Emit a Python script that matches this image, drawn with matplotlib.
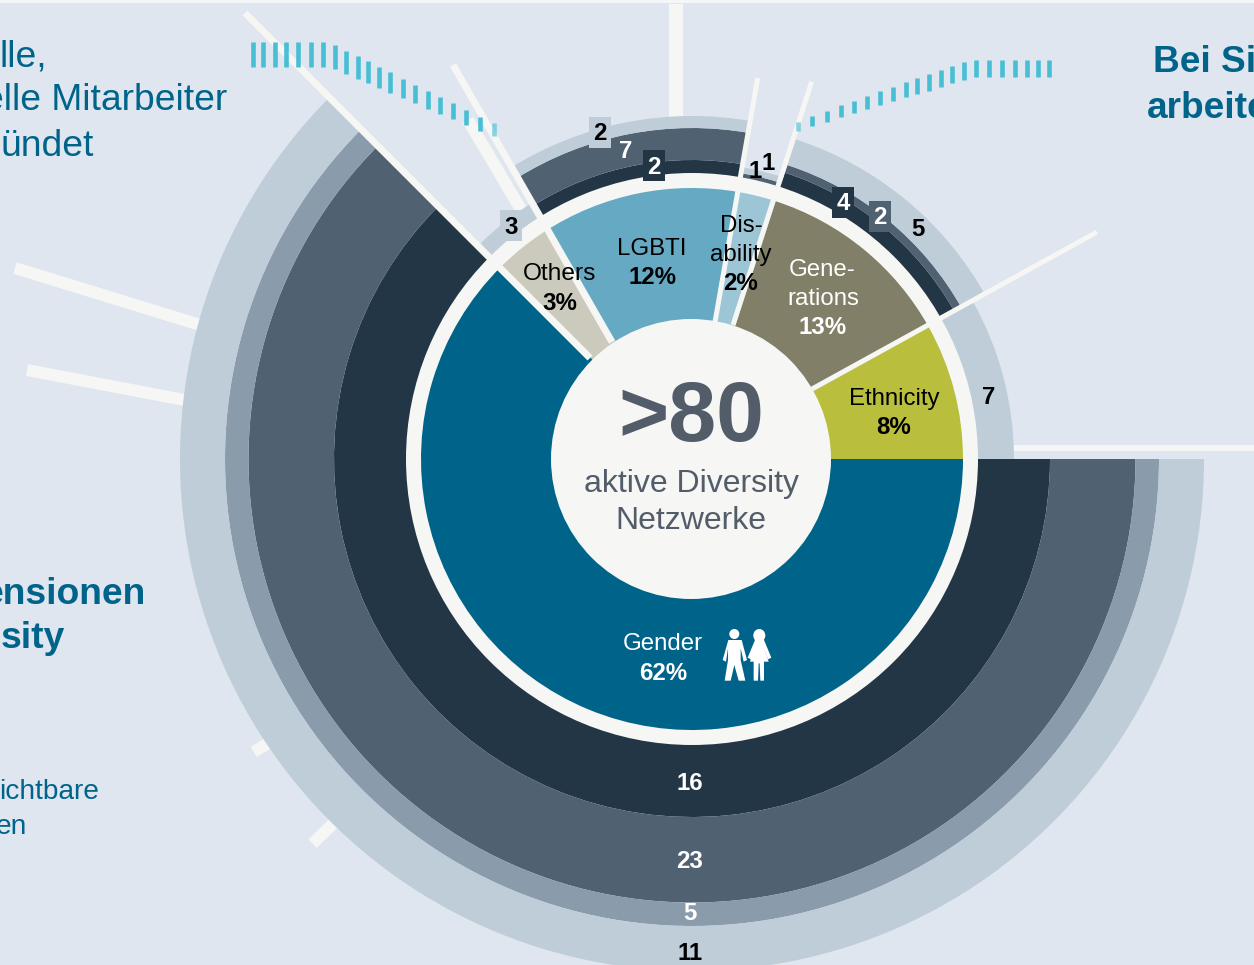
import numpy as np
import matplotlib
matplotlib.use("Agg")
import matplotlib.pyplot as plt
from matplotlib.patches import Wedge, Circle, Rectangle, Polygon, Ellipse

plt.rcParams['font.family'] = ['Liberation Sans', 'DejaVu Sans']

# slices, clockwise from 3 o'clock (share = drawn size, pct = printed label)
slice_names = ['Gender', 'Others', 'LGBTI', 'Disability', 'Generations', 'Ethnicity']
slice_share = [62.5, 3.33, 11.94, 2.22, 11.89, 8.11]
slice_pct = [62, 3, 12, 2, 13, 8]

# network counts per slice, inner band to outer band
ring_counts = [[16, 23, 5, 11], [3], [2, 7, 2], [1, 1], [4, 2, 5], [7]]
ring_outer = [[358, 443.5, 467, 512], [302], [299, 331, 343], [290, 296], [301, 309, 336], [322]]

BG = '#dfe6ef'
WHITE = '#f6f6f4'
TEAL = '#00648a'
GREY_TXT = '#535c69'
NAVY, SLATE, MID, LIGHT = '#233646', '#506272', '#8a9cab', '#bfcdd9'
ring_colors = [[NAVY, SLATE, MID, LIGHT], [LIGHT], [NAVY, SLATE, LIGHT], [SLATE, LIGHT],
               [NAVY, SLATE, LIGHT], [LIGHT]]
slice_colors = ['#00648a', '#cbcabd', '#66a9c3', '#9cc6d5', '#817f67', '#b9bf3c']

CX, CY = 692, 459
R_HOLE, R_SLICE, R_DISC = 140, 271, 286

fig = plt.figure(figsize=(12.54, 9.65), dpi=100, facecolor=BG)
ax = fig.add_axes([0, 0, 1, 1])
ax.set_xlim(0, 1254)
ax.set_ylim(965, 0)  # y down, so wedge angles run clockwise
ax.axis('off')

ax.add_patch(Rectangle((0, 0), 1254, 3, color='#f4f6f8', lw=0, zorder=0))


def bar(p0, p1, width, z=1):
    ax.plot([p0[0], p1[0]], [p0[1], p1[1]], color=WHITE, lw=width * 0.72,
            solid_capstyle='butt', zorder=z)


# rays behind the rings
bar((676, 4), (676, 125), 14)
bar((15, 268), (210, 328), 12)
bar((27, 370), (195, 402), 12)
bar((468, 120), (526, 218), 12)
bar((253.7, 752), (275, 739), 12)
bar((312.5, 843.7), (340, 817), 12)
bar((1013, 447.5), (1254, 447.5), 6)

# rings and slices
edges = np.cumsum([0] + slice_share) / sum(slice_share) * 360
ring_edges = edges.copy()
ring_edges[2] += 1  # the Others/LGBTI separator runs slightly off-centre
for i in range(len(slice_names)):
    inner = R_DISC - 2
    for r, c in zip(ring_outer[i], ring_colors[i]):
        ax.add_patch(Wedge((CX, CY), r, ring_edges[i], ring_edges[i + 1], width=r - inner,
                           fc=c, ec='none', zorder=2))
        inner = r

ax.add_patch(Circle((CX, CY), R_DISC, fc=WHITE, ec='none', zorder=3))
for i in range(len(slice_names)):
    ax.add_patch(Wedge((CX, CY), R_SLICE, edges[i], edges[i + 1], fc=slice_colors[i],
                       ec='none', zorder=4))

# separators
bar((245, 13), (590, 358), 7, z=5)
bar((453, 65), (612, 342), 7, z=5)
bar((757.7, 78), (715, 322), 5, z=5)
bar((811.7, 81.7), (733, 325), 5, z=5)
bar((1097, 232), (812, 389), 5, z=5)
ax.add_patch(Circle((691, CY), R_HOLE, fc=WHITE, ec='none', zorder=6))

# dashed teal arcs
left_x = [252.7, 263.3, 275, 286.3, 298.3, 311.3, 323.3, 335, 346, 357.7, 368.3, 379.3,
          390.3, 403, 415.3, 427.7, 440, 453, 466.3, 480, 494.3]
left_top = [42, 42, 42, 42, 42, 42, 42, 44.7, 50.7, 56, 61.3, 66.7, 72, 78.7, 84.7, 90.7,
            96.7, 103.3, 110, 117.3, 123.3]
left_bot = [66.7, 66.7, 66.7, 66.7, 66.7, 66.7, 66.7, 69.3, 74, 79.3, 83.3, 88, 92.7, 98,
            103.3, 108.7, 114, 119.3, 124.7, 130.7, 136]
right_x = [798.3, 812.3, 826.7, 841, 854.3, 867, 880, 893.3, 905.7, 917.3, 929.3, 940.7,
           952.3, 964, 976, 988.7, 1002, 1014.7, 1026.7, 1038.3, 1049]
right_top = [121.7, 116, 110.7, 105.3, 100.7, 96, 91.3, 86.7, 82, 78, 74, 70, 66, 62, 60,
             60, 60, 60, 60, 60, 60]
right_bot = [130.7, 126, 122, 117.3, 112.7, 109.3, 105.3, 101.3, 97.3, 94, 90.7, 86.7,
             83.3, 80, 77.3, 77.3, 77.3, 77.3, 77.3, 77.3, 77.3]
for xs, tops, bots in [(left_x, left_top, left_bot), (right_x, right_top, right_bot)]:
    for j, (x, t, b) in enumerate(zip(xs, tops, bots)):
        fades = xs is left_x and j == len(xs) - 1 or xs is right_x and j == 0
        ax.plot([x, x], [t, b], color='#3fbcd3', lw=3.3, alpha=0.6 if fades else 0.95,
                solid_capstyle='butt', zorder=7)


def txt(x, y, s, size, color='black', weight='normal', ha='center'):
    ax.text(x, y + 2, s, fontsize=size * 0.72, color=color, fontweight=weight, ha=ha,
            va='center', zorder=9)


# centre
txt(691, 417, '>80', 86, GREY_TXT, 'bold')
txt(691, 482, 'aktive Diversity', 32, GREY_TXT)
txt(691, 519, 'Netzwerke', 32, GREY_TXT)

# slice labels
txt(663, 642, 'Gender', 24, 'white')
txt(663, 671, f'{slice_pct[0]}%', 24, 'white', 'bold')
txt(560, 272, 'Others', 24.5)
txt(560, 301, f'{slice_pct[1]}%', 24, weight='bold')
txt(652, 247, 'LGBTI', 24)
txt(652, 275, f'{slice_pct[2]}%', 24, weight='bold')
txt(741, 224, 'Dis-', 24)
txt(741, 253, 'ability', 24)
txt(741, 282, f'{slice_pct[3]}%', 24, weight='bold')
txt(822, 268, 'Gene-', 24, 'white')
txt(823, 297, 'rations', 24, 'white')
txt(823, 326, f'{slice_pct[4]}%', 24, 'white', 'bold')
txt(894, 397, 'Ethnicity', 24)
txt(894, 426, f'{slice_pct[5]}%', 24, weight='bold')

# ring counts: (slice, band, x, y, text colour, box colour)
count_marks = [
    (0, 0, 690, 781, 'white', None), (0, 1, 690, 858, 'white', None),
    (0, 2, 690, 911, 'white', None), (0, 3, 690, 950, 'black', None),
    (1, 0, 511, 224, 'black', LIGHT),
    (2, 0, 654, 164, 'white', NAVY), (2, 1, 626, 149, 'white', None),
    (2, 2, 600, 131, 'black', LIGHT),
    (3, 0, 755, 169, 'black', None), (3, 1, 768, 161, 'black', None),
    (4, 0, 843, 201, 'white', NAVY), (4, 1, 880, 215, 'white', SLATE),
    (4, 2, 918, 227, 'black', None), (5, 0, 989, 395, 'black', None),
]
for s, b, x, y, col, box in count_marks:
    if box:
        ax.add_patch(Rectangle((x - 11, y - 14), 22, 31, fc=box, ec='none', zorder=8))
    txt(x, y + 1, str(ring_counts[s][b]), 24, col, 'bold')

# cut-off copy at the edges of the page
txt(47, 55, 'lle,', 37.3, TEAL, ha='right')
txt(227, 99, 'elle Mitarbeiter', 37.3, TEAL, ha='right')
txt(94, 145, 'ündet', 37.3, TEAL, ha='right')
txt(146, 593, 'ensionen', 37.3, TEAL, 'bold', ha='right')
txt(65, 637, 'sity', 37.3, TEAL, 'bold', ha='right')
txt(99, 790, 'ichtbare', 28, TEAL, ha='right')
txt(27, 825, 'en', 28, TEAL, ha='right')
txt(1153, 60, 'Bei Si', 37, TEAL, 'bold', ha='left')
txt(1147, 106, 'arbeite', 37, TEAL, 'bold', ha='left')

# gender icon, outlines traced at 3x around (600, 610)
man = [(385, 90), (425, 90), (441, 150), (431, 155), (422, 115), (422, 150), (436, 212),
       (416, 212), (403, 165), (392, 212), (374, 212), (384, 150), (384, 115), (378, 155),
       (368, 150)]
woman = [(465, 90), (492, 90), (514, 143), (504, 148), (490, 112), (506, 155), (492, 155),
         (492, 212), (481, 212), (479, 160), (476, 160), (474, 212), (461, 212), (461, 155),
         (450, 155), (462, 115), (453, 148), (443, 143)]
for outline in (man, woman):
    pts = [(600 + px / 3, 610 + py / 3) for px, py in outline]
    ax.add_patch(Polygon(pts, closed=True, fc='white', ec='none', zorder=9))
ax.add_patch(Circle((734.3, 634), 5, fc='white', ec='none', zorder=9))
ax.add_patch(Ellipse((759.3, 635.5), 12, 13, fc='white', ec='none', zorder=9))

fig.savefig('out.png', dpi=100, facecolor=BG)
